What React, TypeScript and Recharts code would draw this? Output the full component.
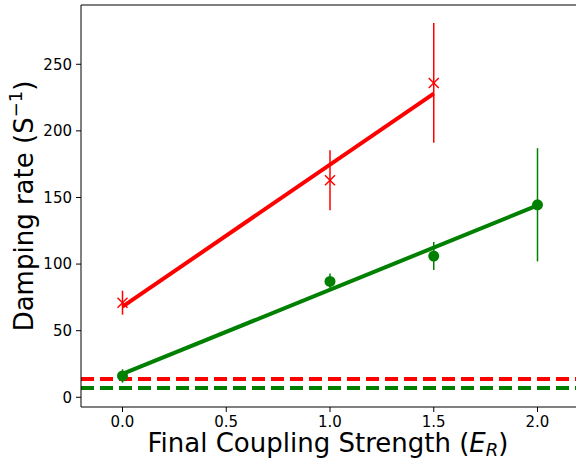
import {
  ComposedChart,
  Scatter,
  Line,
  XAxis,
  YAxis,
  ErrorBar,
  ReferenceLine,
} from "recharts";

// measured damping rates (x = final coupling strength in E_R)
const redPoints = [
  { x: 0.0, y: 71, err: 9 },
  { x: 1.0, y: 163, err: 22.5 },
  { x: 1.5, y: 236, err: 45 },
];

const greenPoints = [
  { x: 0.0, y: 16, err: 5 },
  { x: 1.0, y: 87, err: 6 },
  { x: 1.5, y: 106, err: 10.5 },
  { x: 2.0, y: 144.5, err: 42.5 },
];

// linear fits
const redFit = [
  { x: 0.0, y: 68 },
  { x: 1.5, y: 228 },
];

const greenFit = [
  { x: 0.0, y: 17.5 },
  { x: 2.0, y: 144 },
];

// baseline levels (dashed)
const redBaseline = 13.7;
const greenBaseline = 7;

const xTicks = [0, 0.5, 1.0, 1.5, 2.0];
const yTicks = [0, 50, 100, 150, 200, 250];
const xDomain = [-0.2, 2.2];
const yDomain = [-7.3, 294.5];

const RED = "#ff0000";
const GREEN = "#008000";
const FONT = "'DejaVu Sans', sans-serif";

const Cross = (props: any) => {
  const { cx, cy } = props;
  const s = 5;
  return (
    <g stroke={RED} strokeWidth={1.5}>
      <line x1={cx - s} y1={cy - s} x2={cx + s} y2={cy + s} />
      <line x1={cx - s} y1={cy + s} x2={cx + s} y2={cy - s} />
    </g>
  );
};

const Dot = (props: any) => {
  const { cx, cy } = props;
  return <circle cx={cx} cy={cy} r={5.5} fill={GREEN} />;
};

const XLabel = (props: any) => {
  const vb = props.viewBox;
  const cx = vb.x + vb.width / 2;
  return (
    <text x={cx - 2} y={452} textAnchor="middle" fontFamily={FONT} fontSize={26} fill="#000">
      Final Coupling Strength (<tspan fontStyle="italic">E</tspan>
      <tspan fontStyle="italic" fontSize={18} dy={4}>R</tspan>
      <tspan dy={-4}>)</tspan>
    </text>
  );
};

const YLabel = () => (
  <text
    x={0}
    y={0}
    transform="translate(33, 206) rotate(-90)"
    textAnchor="middle"
    fontFamily={FONT}
    fontSize={26}
    fill="#000"
  >
    Damping rate (S<tspan fontSize={18} dy={-11}>−1</tspan>
    <tspan dy={11}>)</tspan>
  </text>
);

export default function App() {
  const tick = { fontSize: 15, fill: "#000", fontFamily: FONT };
  return (
    <div
      style={{
        position: "fixed",
        left: 0,
        top: 0,
        width: 576,
        height: 459,
        overflow: "hidden",
        background: "#fff",
      }}
    >
      <ComposedChart
        width={582}
        height={459}
        margin={{ top: 5, right: 3, left: 0, bottom: 22 }}
      >
        <XAxis
          type="number"
          dataKey="x"
          domain={xDomain}
          ticks={xTicks}
          tickFormatter={(v: number) => v.toFixed(1)}
          allowDataOverflow
          height={30}
          stroke="#000"
          fontSize={15}
          tick={tick}
          tickSize={5}
          tickMargin={4}
          label={{ content: <XLabel /> }}
        />
        <YAxis
          type="number"
          dataKey="y"
          domain={yDomain}
          ticks={yTicks}
          allowDataOverflow
          width={81}
          stroke="#000"
          fontSize={15}
          tick={tick}
          tickSize={5}
          tickMargin={4}
          label={{ content: <YLabel /> }}
        />
        <ReferenceLine y={yDomain[1]} stroke="#000" strokeWidth={1.2} />
        <ReferenceLine y={redBaseline} stroke={RED} strokeWidth={4} strokeDasharray="13 6" />
        <ReferenceLine y={greenBaseline} stroke={GREEN} strokeWidth={4} strokeDasharray="13 6" />
        <Scatter data={redPoints} shape={<Cross />} isAnimationActive={false}>
          <ErrorBar dataKey="err" direction="y" width={0} stroke={RED} strokeWidth={1.5} />
        </Scatter>
        <Scatter data={greenPoints} shape={<Dot />} isAnimationActive={false}>
          <ErrorBar dataKey="err" direction="y" width={0} stroke={GREEN} strokeWidth={1.5} />
        </Scatter>
        <Line
          data={redFit}
          dataKey="y"
          stroke={RED}
          strokeWidth={4}
          dot={false}
          activeDot={false}
          isAnimationActive={false}
        />
        <Line
          data={greenFit}
          dataKey="y"
          stroke={GREEN}
          strokeWidth={4}
          dot={false}
          activeDot={false}
          isAnimationActive={false}
        />
      </ComposedChart>
    </div>
  );
}
